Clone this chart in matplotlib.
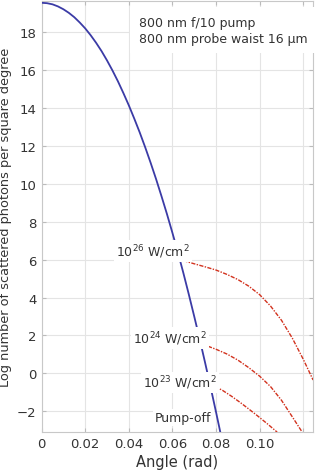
import matplotlib
matplotlib.use('Agg')
import matplotlib.pyplot as plt

# pump-off curve (blue)
ang_off = [0, 0.0025, 0.005, 0.0075, 0.01, 0.0125, 0.015, 0.0175, 0.02, 0.0225,
           0.025, 0.0275, 0.03, 0.0325, 0.035, 0.0375, 0.04, 0.0425, 0.045, 0.0475,
           0.05, 0.0525, 0.055, 0.0575, 0.06, 0.0625, 0.065, 0.0675, 0.07, 0.0725,
           0.075, 0.0775, 0.08, 0.0825]
log_off = [19.55, 19.53, 19.47, 19.36, 19.21, 19.02, 18.79, 18.51, 18.2, 17.84,
           17.44, 17.0, 16.51, 15.98, 15.41, 14.79, 14.14, 13.44, 12.71, 11.93,
           11.11, 10.25, 9.34, 8.4, 7.41, 6.38, 5.3, 4.17, 3.0, 1.8,
           0.55, -0.73, -2.05, -3.4]

# pumped curves (red)
ang_26 = [0.065, 0.07, 0.075, 0.08, 0.085, 0.09, 0.095, 0.1, 0.105, 0.11, 0.115, 0.12, 0.1245]
log_26 = [5.95, 5.78, 5.62, 5.45, 5.22, 4.95, 4.6, 4.15, 3.55, 2.8, 1.85, 0.74, -0.35]

ang_24 = [0.0763, 0.08, 0.085, 0.09, 0.095, 0.1, 0.105, 0.11, 0.115, 0.1195]
log_24 = [1.43, 1.27, 1.02, 0.7, 0.3, -0.15, -0.7, -1.42, -2.3, -3.1]

ang_23 = [0.0795, 0.083, 0.087, 0.091, 0.095, 0.099, 0.1035, 0.108]
log_23 = [-0.69, -0.9, -1.2, -1.53, -1.88, -2.24, -2.66, -3.1]

xticks = [0, 0.02, 0.04, 0.06, 0.08, 0.10, 0.12]
xlabels = ['0', '0.02', '0.04', '0.06', '0.08', '0.10', '']
yticks = [-2, 0, 2, 4, 6, 8, 10, 12, 14, 16, 18]

txt = '#333333'
plt.rcParams['font.family'] = ['DejaVu Sans']

fig = plt.figure(figsize=(3.15, 4.77), dpi=100)
ax = fig.add_axes([0.132, 0.092, 0.862, 0.904])

ax.plot(ang_off, log_off, color='#3b3ba6', linewidth=1.3, zorder=3)
dash = (0, (3, 1, 1, 1))
for a, l in [(ang_26, log_26), (ang_24, log_24), (ang_23, log_23)]:
    ax.plot(a, l, color='#d2321e', linewidth=1.0, linestyle=dash, zorder=3)

ax.set_xlim(0, 0.1245)
ax.set_ylim(-3.1, 19.65)
ax.set_xticks(xticks)
ax.set_xticklabels(xlabels)
ax.set_yticks(yticks)
ax.grid(True, color='#e4e4e4', linewidth=0.8)
ax.tick_params(direction='in', colors='#bbbbbb', labelcolor=txt, labelsize=9.5,
               top=True, right=True, length=3)
for s in ax.spines.values():
    s.set_color('#c8c8c8')

ax.set_xlabel('Angle (rad)', fontsize=10.5, color=txt, labelpad=3)
ax.set_ylabel('Log number of scattered photons per square degree', fontsize=9.3,
              color=txt, labelpad=4)

box = dict(facecolor='white', edgecolor='none', pad=1.5)
ax.text(0.051, 6.45, r'10$^{26}$ W/cm$^2$', ha='center', va='center', fontsize=9,
        color=txt, bbox=box, zorder=4)
ax.text(0.0589, 1.85, r'10$^{24}$ W/cm$^2$', ha='center', va='center', fontsize=9,
        color=txt, bbox=box, zorder=4)
ax.text(0.0635, -0.48, r'10$^{23}$ W/cm$^2$', ha='center', va='center', fontsize=9,
        color=txt, bbox=box, zorder=4)
ax.text(0.065, -2.32, 'Pump-off', ha='center', va='center', fontsize=9,
        color=txt, bbox=box, zorder=4)

ax.text(0.0445, 18.1, '800 nm f/10 pump\n800 nm probe waist 16 µm', ha='left', va='center',
        fontsize=9, color=txt, linespacing=1.3, zorder=4,
        bbox=dict(facecolor='white', edgecolor='none', pad=6))

fig.savefig('out.png', dpi=100)
